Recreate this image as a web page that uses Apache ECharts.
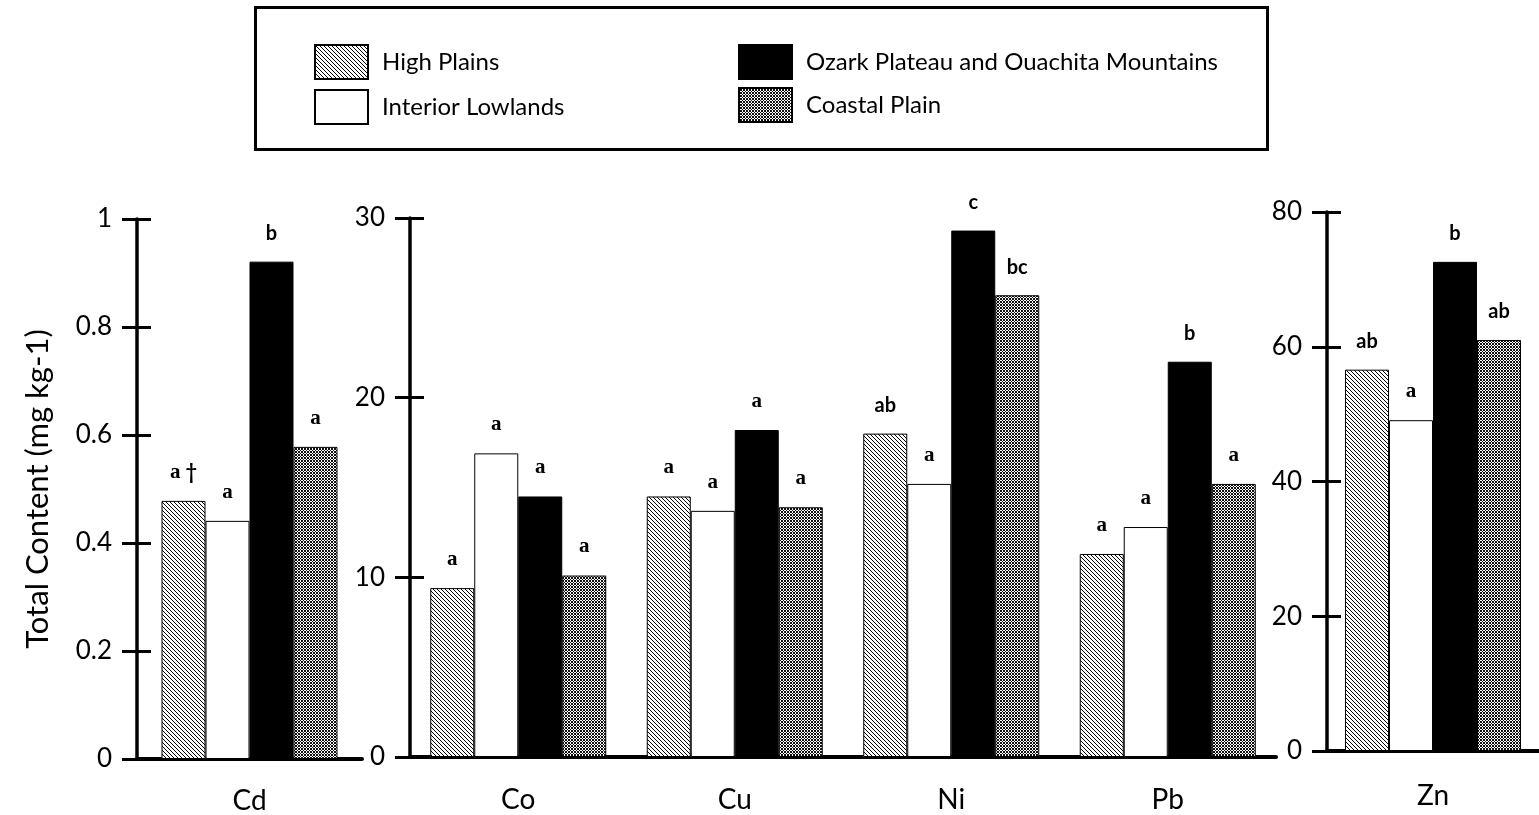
<!DOCTYPE html>
<html>
<head>
<meta charset="utf-8">
<script src="https://cdn.jsdelivr.net/npm/echarts@6/dist/echarts.min.js"></script>
<style>
html,body{margin:0;padding:0;background:#fff;}
#chart{width:1539px;height:815px;}
</style>
</head>
<body>
<div id="chart"></div>
<script>
// ---- data ----
const regions = ['High Plains', 'Interior Lowlands', 'Ozark Plateau and Ouachita Mountains', 'Coastal Plain'];
const cdCategories = ['Cd'];
const midCategories = ['Co', 'Cu', 'Ni', 'Pb'];
const znCategories = ['Zn'];

// Cd panel (one value per region)
const cdHighPlains = [0.478];
const cdInteriorLowlands = [0.441];
const cdOzark = [0.921];
const cdCoastalPlain = [0.578];

// Co, Cu, Ni, Pb panel
const midHighPlains = [9.4, 14.5, 18.0, 11.3];
const midInteriorLowlands = [16.9, 13.7, 15.2, 12.8];
const midOzark = [14.5, 18.2, 29.3, 22.0];
const midCoastalPlain = [10.1, 13.9, 25.7, 15.2];

// Zn panel
const znHighPlains = [56.6];
const znInteriorLowlands = [49.1];
const znOzark = [72.6];
const znCoastalPlain = [61.0];

// significance letters
const cdLetters = [['a †'], ['a'], ['b'], ['a']];
const midLetters = [
  ['a', 'a', 'ab', 'a'],
  ['a', 'a', 'a', 'a'],
  ['a', 'a', 'c', 'b'],
  ['a', 'a', 'bc', 'a']
];
const znLetters = [['ab'], ['a'], ['b'], ['ab']];

// axis scales
const cdTicks = { min: 0, max: 1, interval: 0.2 };
const midTicks = { min: 0, max: 30, interval: 10 };
const znTicks = { min: 0, max: 80, interval: 20 };

const yTitle = 'Total Content (mg kg-1)';

// ---- styles ----
function makePattern(size, fg, test) {
  const c = document.createElement('canvas');
  c.width = size; c.height = size;
  const ctx = c.getContext('2d');
  ctx.fillStyle = '#fff';
  ctx.fillRect(0, 0, size, size);
  ctx.fillStyle = fg;
  for (let x = 0; x < size; x++) for (let y = 0; y < size; y++) if (test(x, y)) ctx.fillRect(x, y, 1, 1);
  return { image: c, repeat: 'repeat' };
}
const hatch = makePattern(4, '#000', (x, y) => x === y);
const cross = makePattern(3, '#111', (x, y) => (x + y) % 3 === 0 || (x - y + 3) % 3 === 0);
const fills = [hatch, '#ffffff', '#000000', cross];

const FONT = 'Lato';
const grids = [
  { left: 137, top: 219, width: 225, height: 540 },
  { left: 410, top: 218, width: 866, height: 539 },
  { left: 1327, top: 212, width: 216, height: 539 }
];
const catMargins = [28, 29, 31];
const panelCats = [cdCategories, midCategories, znCategories];
const panelTicks = [cdTicks, midTicks, znTicks];
const panelData = [
  [cdHighPlains, cdInteriorLowlands, cdOzark, cdCoastalPlain],
  [midHighPlains, midInteriorLowlands, midOzark, midCoastalPlain],
  [znHighPlains, znInteriorLowlands, znOzark, znCoastalPlain]
];
const panelLetters = [cdLetters, midLetters, znLetters];

function letterText(t) {
  if (t === 'a') return '{s|a}';
  if (t.indexOf('a ') === 0) return '{s|a}' + t.slice(1);
  return t;
}

const xAxes = [], yAxes = [], series = [];
grids.forEach((g, p) => {
  xAxes.push({
    type: 'category', gridIndex: p, data: panelCats[p], position: 'bottom',
    axisLine: { lineStyle: { color: '#000', width: 4 } },
    axisTick: { show: false },
    axisLabel: { color: '#000', fontSize: 28, fontFamily: FONT, margin: catMargins[p] }
  });
  const t = panelTicks[p];
  yAxes.push({
    type: 'value', gridIndex: p, position: 'left', offset: 0,
    min: t.min, max: t.max, interval: t.interval,
    splitLine: { show: false },
    axisLine: { show: true, lineStyle: { color: '#000', width: 3.5 } },
    axisTick: { show: true, inside: false, length: 15, lineStyle: { color: '#000', width: 3 } },
    axisLabel: { color: '#000', fontSize: 26, fontFamily: FONT, margin: 25 },
    name: p === 0 ? yTitle : '',
    nameLocation: 'middle', nameGap: 84,
    nameTextStyle: { color: '#000', fontSize: 31, fontFamily: FONT }
  });
  yAxes.push({
    type: 'value', gridIndex: p, position: 'left', offset: 0,
    min: t.min, max: t.max, interval: t.interval,
    splitLine: { show: false },
    axisLine: { show: false },
    axisTick: { show: true, inside: true, length: 14, lineStyle: { color: '#000', width: 3 } },
    axisLabel: { show: false }
  });
  regions.forEach((name, r) => {
    const letters = panelLetters[p][r];
    series.push({
      type: 'bar', name: name, xAxisIndex: p, yAxisIndex: 2 * p,
      data: panelData[p][r],
      barWidth: 44, barGap: '0%',
      itemStyle: { color: fills[r], borderColor: '#000', borderWidth: 1 },
      label: {
        show: true, position: 'top', distance: 18,
        formatter: (prm) => letterText(letters[prm.dataIndex]),
        color: '#000', fontSize: 20, fontWeight: 'bold', fontFamily: FONT,
        rich: { s: { color: '#000', fontSize: 21, fontWeight: 'bold', fontFamily: 'Liberation Serif' } }
      },
      emphasis: { disabled: true },
      animation: false
    });
  });
});

const chart = echarts.init(document.getElementById('chart'), null, { renderer: 'canvas' });
chart.setOption({
  animation: false,
  backgroundColor: '#fff',
  grid: grids,
  xAxis: xAxes,
  yAxis: yAxes,
  series: series,
  legend: [
    {
      left: 309, top: 39, orient: 'vertical', itemWidth: 53, itemHeight: 34, itemGap: 9,
      icon: 'rect', selectedMode: false, data: [regions[0], regions[1]],
      textStyle: { color: '#000', fontSize: 24, fontFamily: FONT, padding: [0, 0, 0, 9] }
    },
    {
      left: 733, top: 39, orient: 'vertical', itemWidth: 53, itemHeight: 34, itemGap: 7,
      icon: 'rect', selectedMode: false, data: [regions[2], regions[3]],
      textStyle: { color: '#000', fontSize: 24, fontFamily: FONT, padding: [0, 0, 0, 9] }
    }
  ],
  graphic: [
    {
      type: 'rect', left: 253, top: 5, z: -1,
      shape: { width: 1012, height: 142 },
      style: { fill: 'none', stroke: '#000', lineWidth: 3 }
    }
  ]
});
</script>
</body>
</html>
